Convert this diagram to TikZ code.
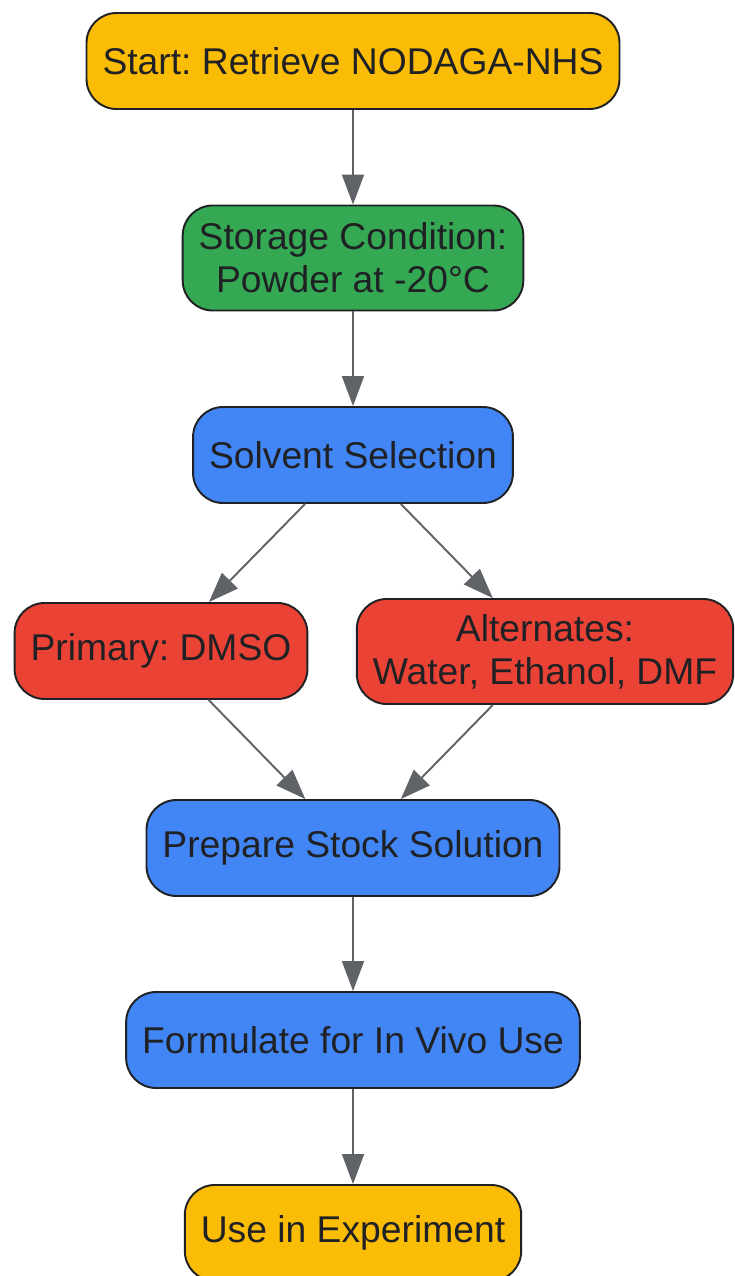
\documentclass[tikz,border=0pt]{standalone}
\usepackage{fontspec}
\setmainfont{Liberation Sans}
\usetikzlibrary{arrows.meta,positioning}
\frenchspacing

\definecolor{gyellow}{HTML}{FBBC05}
\definecolor{ggreen}{HTML}{34A853}
\definecolor{gblue}{HTML}{4285F4}
\definecolor{gred}{HTML}{EA4335}
\definecolor{edgegray}{HTML}{5F6368}
\definecolor{inkdark}{HTML}{202124}

\begin{document}
\begin{tikzpicture}[
box/.style={draw=inkdark,line width=1.1pt,rounded corners=0.6cm,
  text=inkdark,align=center,inner xsep=0.32cm,minimum height=1.92cm,
  font=\fontsize{21.2pt}{24.4pt}\selectfont},
twoline/.style={minimum height=2.1cm},
flow/.style={draw=edgegray,line width=1.1pt,-{Triangle[length=0.6cm,width=0.44cm]}}
]
\useasboundingbox (0,0) rectangle (14.68,-25.52);

\node[box,fill=gyellow] (start) at (7.06,-1.22) {Start: Retrieve NODAGA-NHS};
\node[box,twoline,fill=ggreen] (store) at (7.06,-5.16) {Storage Condition:\\Powder at -20°C};
\node[box,fill=gblue] (solv) at (7.06,-9.10) {Solvent Selection};
\node[box,fill=gred] (dmso) at (3.22,-13.02) {Primary: DMSO};
\node[box,twoline,fill=gred] (alt) at (10.9,-13.03) {Alternates:\\Water, Ethanol, DMF};
\node[box,fill=gblue] (stock) at (7.06,-16.96) {Prepare Stock Solution};
\node[box,fill=gblue] (form) at (7.06,-20.80) {Formulate for In Vivo Use};
\node[box,fill=gyellow] (use) at (7.06,-24.66) {Use in Experiment};

\draw[flow] (start) -- (store);
\draw[flow] (store) -- (solv);
\draw[flow] (solv) -- (dmso);
\draw[flow] (solv) -- (alt);
\draw[flow] (dmso) -- (stock);
\draw[flow] (alt) -- (stock);
\draw[flow] (stock) -- (form);
\draw[flow] (form) -- (use);

\end{tikzpicture}
\end{document}
